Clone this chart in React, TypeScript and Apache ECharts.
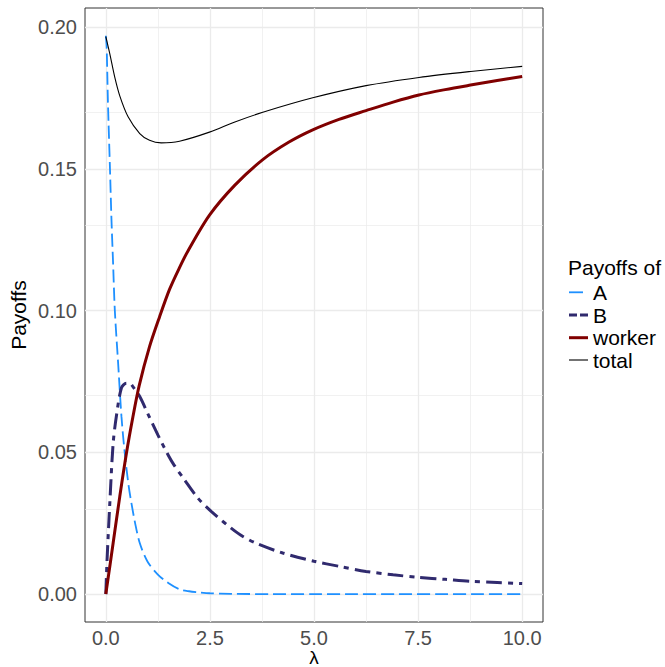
import React, { useEffect, useRef } from 'react';
import * as echarts from 'echarts';

// Values (lambda, payoff)
const lambdaA = [0, 0.02, 0.05, 0.1, 0.136, 0.175, 0.216, 0.296, 0.376, 0.455, 0.55, 0.615, 0.7, 0.815, 1.0, 1.25, 1.5, 1.77, 2.0, 2.25, 2.5, 3, 4, 5, 6, 7, 8, 9, 10];
const payoffA = [0.197, 0.193, 0.174, 0.150, 0.132, 0.1166, 0.1002, 0.0814, 0.0626, 0.0497, 0.038, 0.0321, 0.0253, 0.018, 0.0115, 0.0069, 0.0039, 0.0017, 0.001, 0.0006, 0.0003, 0.0001, 0, 0, 0, 0, 0, 0, 0];

const lambdaB = [0, 0.03, 0.096, 0.176, 0.256, 0.376, 0.495, 0.575, 0.65, 0.815, 1.01, 1.25, 1.41, 1.61, 1.89, 2.21, 2.53, 3.17, 3.6, 4.25, 5.0, 5.6, 6.25, 6.9, 7.52, 8.15, 8.76, 9.4, 10];
const payoffB = [0, 0.0121, 0.0321, 0.0532, 0.063, 0.0728, 0.0744, 0.0744, 0.0732, 0.0697, 0.0636, 0.0562, 0.0515, 0.0462, 0.0403, 0.0339, 0.0292, 0.0215, 0.018, 0.0145, 0.0116, 0.0098, 0.0080, 0.0068, 0.0059, 0.0052, 0.0045, 0.0041, 0.0037];

const lambdaW = [0, 0.176, 0.335, 0.495, 0.65, 0.8, 1.05, 1.29, 1.53, 1.77, 1.97, 2.49, 3.1, 3.77, 4.4, 4.97, 5.6, 6.25, 6.9, 7.52, 8.15, 8.76, 9.4, 10];
const payoffW = [0, 0.018, 0.0344, 0.0497, 0.0625, 0.0735, 0.0873, 0.0978, 0.1075, 0.1152, 0.121, 0.1337, 0.1443, 0.1533, 0.1595, 0.1638, 0.1675, 0.1706, 0.1736, 0.1761, 0.178, 0.1796, 0.1812, 0.1826];

const lambdaT = [0, 0.096, 0.216, 0.335, 0.535, 0.815, 1.05, 1.33, 1.77, 2.49, 3.1, 3.77, 4.97, 6.25, 7.52, 8.76, 10];
const payoffT = [0.1967, 0.1906, 0.1823, 0.1758, 0.1684, 0.1625, 0.1601, 0.1592, 0.1598, 0.1630, 0.1666, 0.1700, 0.1751, 0.1794, 0.1823, 0.1844, 0.1862];

const xTicks = [0, 2.5, 5, 7.5, 10];
const xMinor = [1.25, 3.75, 6.25, 8.75];
const yTicks = [0, 0.05, 0.1, 0.15, 0.2];
const yMinor = [0.025, 0.075, 0.125, 0.175];

const seriesNames = ['A', 'B', 'worker', 'total'];
const legendTitle = 'Payoffs of';
const xTitle = 'λ';
const yTitle = 'Payoffs';

const FONT = '"Liberation Sans", Arial, Helvetica, sans-serif';

const colors = ['#1E90FF', '#302A6E', '#800000', '#000000'];
const widths = [1.8, 3, 3, 1.1];
const dashes: any[] = [[13, 5], [16, 6, 5, 6], 'solid', 'solid'];
const legendDashes: any[] = [[14, 20], [8, 3], null, null];

const zip = (xs: number[], ys: number[]) => xs.map((x, i) => [x, ys[i]]);

export default function App() {
  const ref = useRef<HTMLDivElement>(null);
  useEffect(() => {
    if (!ref.current) return;
    const chart = echarts.init(ref.current, null, { renderer: 'svg' });
    const gridLeft = 85, gridTop = 8, gridW = 458, gridH = 614;

    const dataSets = [zip(lambdaA, payoffA), zip(lambdaB, payoffB), zip(lambdaW, payoffW), zip(lambdaT, payoffT)];

    const gridLineData: any[] = [
      ...xMinor.map((v) => ({ xAxis: v, lineStyle: { width: 0.7 } })),
      ...yMinor.map((v) => ({ yAxis: v, lineStyle: { width: 0.7 } })),
      ...xTicks.map((v) => ({ xAxis: v, lineStyle: { width: 1.3 } })),
      ...yTicks.map((v) => ({ yAxis: v, lineStyle: { width: 1.3 } })),
    ];

    const legendX = 568;
    const legendYs = [292.3, 315, 337.7, 360];
    const legendGraphics: any[] = [
      {
        type: 'text', left: legendX, top: 268 - 11,
        style: { text: legendTitle, font: `21px ${FONT}`, fill: '#000' },
      },
    ];
    seriesNames.forEach((n, i) => {
      legendGraphics.push({
        type: 'line',
        shape: { x1: 569, y1: legendYs[i], x2: 588, y2: legendYs[i] },
        style: { stroke: colors[i], lineWidth: widths[i], lineDash: legendDashes[i] || undefined },
      });
      legendGraphics.push({
        type: 'text', x: 593, y: legendYs[i],
        style: { text: n, font: `21px ${FONT}`, fill: '#000', textVerticalAlign: 'middle', textAlign: 'left' },
      });
    });

    const option: any = {
      animation: false,
      backgroundColor: '#ffffff',
      grid: {
        left: gridLeft, top: gridTop, width: gridW, height: gridH,
        show: true, borderColor: '#333333', borderWidth: 1, backgroundColor: 'transparent',
        containLabel: false,
      },
      xAxis: {
        type: 'value', min: -0.5, max: 10.5,
        axisLine: { show: false },
        splitLine: { show: false },
        axisTick: { show: true, length: 4, lineStyle: { color: '#333333', width: 1 }, customValues: xTicks },
        axisLabel: {
          customValues: xTicks, margin: 6,
          color: '#4D4D4D', fontSize: 20, fontFamily: FONT,
          formatter: (v: number) => v.toFixed(1),
        },
      },
      yAxis: {
        type: 'value', min: -0.00985, max: 0.2068,
        axisLine: { show: false },
        splitLine: { show: false },
        axisTick: { show: true, length: 4, lineStyle: { color: '#333333', width: 1 }, customValues: yTicks },
        axisLabel: {
          customValues: yTicks, margin: 8,
          color: '#4D4D4D', fontSize: 20, fontFamily: FONT,
          formatter: (v: number) => v.toFixed(2),
        },
      },
      series: [
        {
          type: 'line', data: [], silent: true, z: 0,
          markLine: {
            z: 1,
            silent: true, symbol: 'none', label: { show: false }, animation: false,
            lineStyle: { color: '#EBEBEB', type: 'solid', width: 1 },
            emphasis: { disabled: true },
            data: gridLineData,
          },
        },
        ...seriesNames.map((n, i) => ({
          name: n, type: 'line', data: dataSets[i], showSymbol: false, symbol: 'none',
          smooth: 0.3, z: 10 + i, silent: true,
          lineStyle: { color: colors[i], width: widths[i], type: dashes[i], cap: 'butt' },
        })),
      ],
      graphic: [
        {
          type: 'text', x: 314, y: 657.5,
          style: { text: xTitle, font: `19px ${FONT}`, fill: '#000', textAlign: 'center', textVerticalAlign: 'middle' },
        },
        {
          type: 'text', x: 18, y: 315, rotation: Math.PI / 2,
          style: { text: yTitle, font: `21px ${FONT}`, fill: '#000', textAlign: 'center', textVerticalAlign: 'middle' },
        },
        ...legendGraphics,
      ],
    };
    chart.setOption(option);
    return () => chart.dispose();
  }, []);
  return <div ref={ref} style={{ position: 'fixed', left: 0, top: 0, width: 665, height: 667 }} />;
}
